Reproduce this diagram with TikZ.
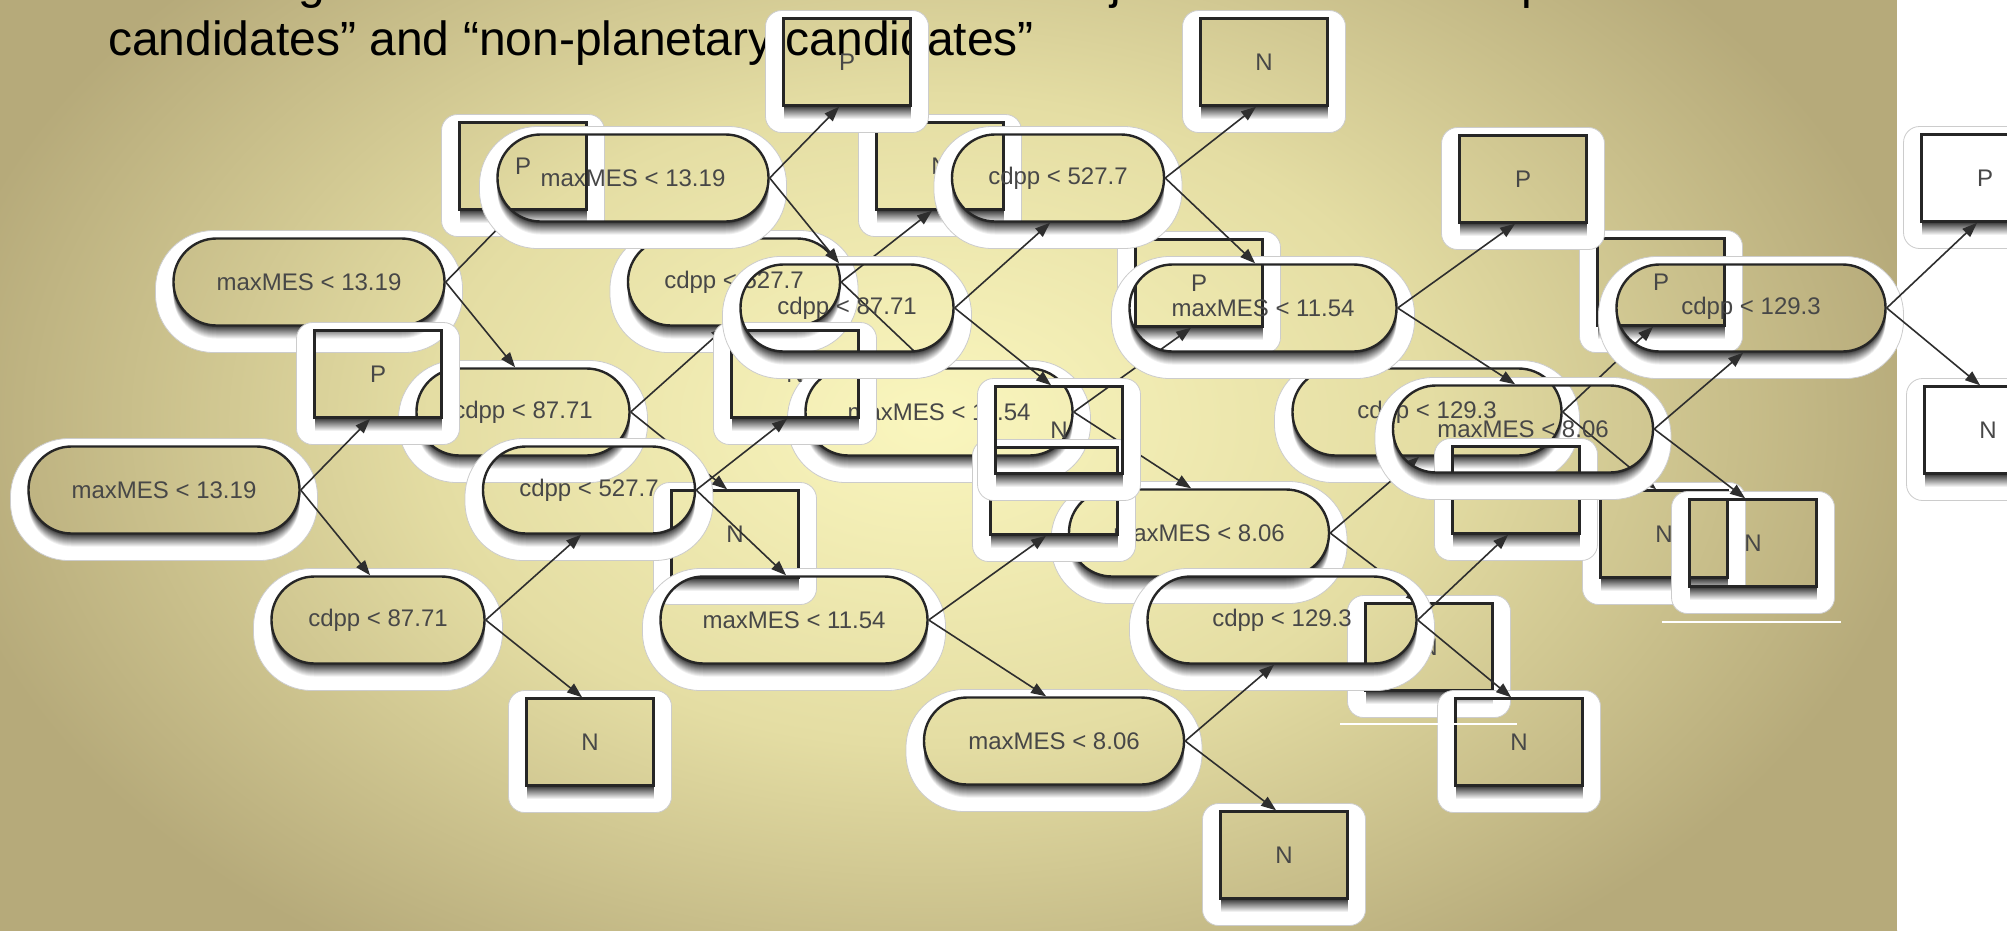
\documentclass[tikz,border=0pt]{standalone}
\usepackage{fontspec}
\setmainfont{Liberation Sans}
\usetikzlibrary{arrows.meta}
\definecolor{bgA}{RGB}{250,246,190}
\definecolor{bgB}{RGB}{228,221,163}
\definecolor{bgC}{RGB}{182,170,122}
\pgfdeclareradialshading{bgshade}{\pgfpoint{0bp}{0bp}}{color(0bp)=(bgA); color(12.5bp)=(bgB); color(25bp)=(bgC); color(50bp)=(bgC)}
\tikzset{
  stadnode/.style={draw=black!85, line width=2.4pt, rounded corners=43pt, minimum height=87pt, inner sep=0pt, font=\fontsize{24}{28}\selectfont, text=black!72},
  boxnode/.style={draw=black!85, line width=2.4pt, minimum width=127pt, minimum height=87pt, inner sep=0pt, font=\fontsize{24}{28}\selectfont, text=black!72},
  treeedge/.style={draw=black!82, line width=1.6pt, -{Triangle[length=15pt,width=11pt]}},
  titletext/.style={anchor=base west, inner sep=0pt, font=\fontsize{48}{57}\selectfont, text=black},
  glitchline/.style={draw=white, line width=2pt},
}
\newcommand{\gstad}[5]{%
  \pgfmathsetmacro\gx{#2}\pgfmathsetmacro\gy{#3}\pgfmathsetmacro\gw{#4/2}%
  \begin{scope}[even odd rule, rounded corners=43pt]
    \clip (-100,-100) rectangle (2200,1100) ({\gx-\gw},{\gy-43.5}) rectangle ({\gx+\gw},{\gy+43.5});
    \filldraw[fill=white, draw=gray!40, line width=0.8pt, rounded corners=58pt] ({\gx-\gw-18},{\gy-51.5}) rectangle ({\gx+\gw+18},{\gy+70.5});
    \foreach \i in {14,13,...,1}{\pgfmathtruncatemacro\gc{max(0,84-6*\i)}\fill[black!\gc, rounded corners=43pt] ({\gx-\gw},{\gy-43.5+\i}) rectangle ({\gx+\gw},{\gy+43.5+\i});}
  \end{scope}
  \node[stadnode, minimum width=#4pt] (#1) at ({\gx},{\gy}) {#5};
}
\newcommand{\gbox}[4]{%
  \pgfmathsetmacro\gx{#2}\pgfmathsetmacro\gy{#3}%
  \begin{scope}[even odd rule]
    \clip (-100,-100) rectangle (2200,1100) ({\gx-63.5},{\gy-43.5}) rectangle ({\gx+63.5},{\gy+43.5});
    \filldraw[fill=white, draw=gray!40, line width=0.8pt, rounded corners=16pt] ({\gx-81.5},{\gy-51.5}) rectangle ({\gx+81.5},{\gy+70.5});
    \foreach \i in {14,13,...,1}{\pgfmathtruncatemacro\gc{max(0,84-6*\i)}\fill[black!\gc] ({\gx-63.5},{\gy-43.5+\i}) rectangle ({\gx+63.5},{\gy+43.5+\i});}
  \end{scope}
  \node[boxnode] (#1) at ({\gx},{\gy}) {#4};
}
\newcommand{\gtree}[3]{%
  \gstad{#1-1}{164+(#2)}{490+(#3)}{271}{maxMES < 13.19}
  \gbox{#1-2}{378+(#2)}{374+(#3)}{P}
  \gstad{#1-3}{378+(#2)}{620+(#3)}{213}{cdpp < 87.71}
  \gstad{#1-4}{589+(#2)}{490+(#3)}{212}{cdpp < 527.7}
  \gbox{#1-5}{590+(#2)}{742+(#3)}{N}
  \gbox{#1-6}{795+(#2)}{374+(#3)}{N}
  \gstad{#1-7}{794+(#2)}{620+(#3)}{267}{maxMES < 11.54}
  \gbox{#1-8}{1054+(#2)}{491+(#3)}{P}
  \gstad{#1-9}{1054+(#2)}{741+(#3)}{260}{maxMES < 8.06}
  \gstad{#1-10}{1282+(#2)}{620+(#3)}{269}{cdpp < 129.3}
  \gbox{#1-11}{1284+(#2)}{855+(#3)}{N}
  \gbox{#1-12}{1516+(#2)}{490+(#3)}{P}
  \gbox{#1-13}{1519+(#2)}{742+(#3)}{N}
  \draw[treeedge] (#1-1.east) -- (#1-2.260);
  \draw[treeedge] (#1-1.east) -- (#1-3.100);
  \draw[treeedge] (#1-3.east) -- (#1-4.260);
  \draw[treeedge] (#1-3.east) -- (#1-5.100);
  \draw[treeedge] (#1-4.east) -- (#1-6.260);
  \draw[treeedge] (#1-4.east) -- (#1-7.100);
  \draw[treeedge] (#1-7.east) -- (#1-8.260);
  \draw[treeedge] (#1-7.east) -- (#1-9.100);
  \draw[treeedge] (#1-9.east) -- (#1-10.260);
  \draw[treeedge] (#1-9.east) -- (#1-11.100);
  \draw[treeedge] (#1-10.east) -- (#1-12.260);
  \draw[treeedge] (#1-10.east) -- (#1-13.100);
}
\begin{document}
\begin{tikzpicture}[x=1pt, y=-1pt]
\useasboundingbox (0,0) rectangle (2007,930);
% background
\begin{scope}
  \clip (0,0) rectangle (1897,930);
  \shade[shading=bgshade] (-70,-230) rectangle (1930,1070);
\end{scope}
\fill[white] (1897,0) rectangle (2007,930);
% title fragments
\node[titletext] (fragg) at (298,-2) {g};
\node[titletext] (fragj) at (1110,-2) {j};
\node[titletext] (fragp) at (1521,-2) {p};
\node[titletext] (title) at (108,55) {candidates” and “non-planetary candidates”};
% three overlapping copies of the tree
\gtree{B}{145}{-208}
\gtree{C}{0}{0}
\gtree{A}{469}{-312}
% stray white lines
\coordinate (w1a) at (1662,622);
\coordinate (w1b) at (1841,622);
\coordinate (w2a) at (1340,724);
\coordinate (w2b) at (1517,724);
\draw[glitchline] (w1a) -- (w1b);
\draw[glitchline] (w2a) -- (w2b);
\end{tikzpicture}
\end{document}
